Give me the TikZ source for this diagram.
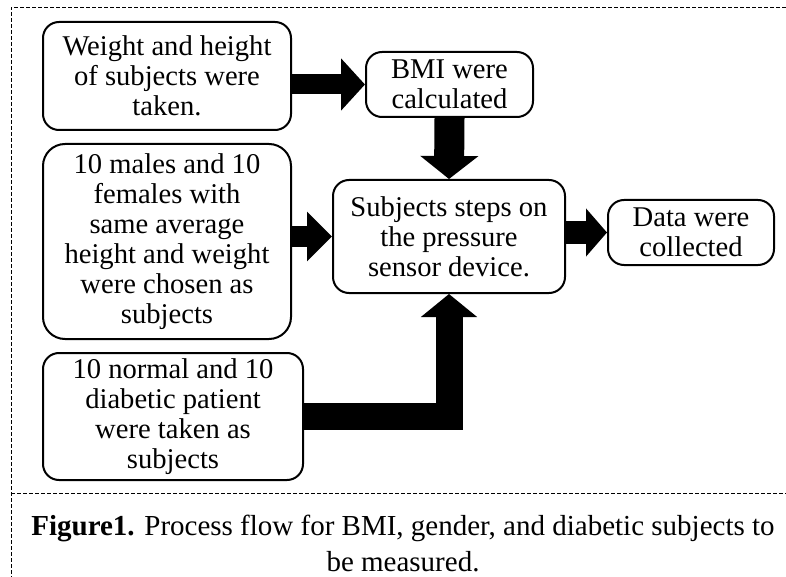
\documentclass[tikz,border=0pt]{standalone}
\usepackage{fontspec}
\setmainfont{Liberation Serif}
\usepackage{tikz}
\usetikzlibrary{arrows.meta, calc}
\tikzset{%
	procbox/.style={
		draw,
		rounded corners=8pt,
		line width=1pt,
		align=center,
		inner sep=1pt,
		font=\fontsize{14.3}{15}\selectfont
	},
	fatarrow/.style={
		line width=#1,
		line join=miter
	},
	frameline/.style={
		line width=0.4pt,
		dash pattern=on 2pt off 1pt
	},
}

\begin{document}
\begin{tikzpicture}[x=0.5pt, y=-0.5pt]
	\useasboundingbox (0,0) rectangle (786,577);
	% frame
	\draw[frameline] (786,7) -- (11,7) -- (11,577);
	\draw[frameline] (11,493) -- (786,493);
	
	% boxes
	\node[procbox, minimum width=124pt, minimum height=54pt] (weight) at (167,76)
		{Weight and height\\of subjects were\\taken.};
	\node[procbox, minimum width=83.5pt, minimum height=32.5pt] (bmi) at (449.5,84.5)
		{BMI were\\calculated};
	\node[procbox, rounded corners=11pt, minimum width=124pt, minimum height=97.5pt] (gender) at (167,241.5)
		{10 males and 10\\females with\\same average\\height and weight\\were chosen as\\subjects};
	\node[procbox, minimum width=116pt, minimum height=56.5pt] (sensor) at (449,236.5)
		{Subjects steps on\\the pressure\\sensor device.};
	\node[procbox, minimum width=83pt, minimum height=32.5pt] (data) at (691,232.5)
		{Data were\\collected};
	\node[procbox, minimum width=130pt, minimum height=63.5pt] (diabetic) at (173,416.5)
		{10 normal and 10\\diabetic patient\\were taken as\\subjects};
	
	% arrows
	\draw[fatarrow=10pt, -{Triangle[length=12pt, width=25.5pt]}]
		(bmi.west -| weight.east) -- (bmi.west);
	\draw[fatarrow=15pt, -{Triangle[length=11.5pt, width=28.5pt]}]
		(bmi.south) -- (sensor.north);
	\draw[fatarrow=10.5pt, -{Triangle[length=12.5pt, width=24pt]}]
		(sensor.west -| gender.east) -- (sensor.west);
	\draw[fatarrow=11.5pt, -{Triangle[length=10.5pt, width=23.5pt]}]
		(sensor.east |- data.west) -- (data.west);
	\draw[fatarrow=13.5pt, -{Triangle[length=11.5pt, width=27.5pt]}]
		(diabetic.east) -| (sensor.south);
	
	% caption
	\node[align=center, inner sep=0pt, font=\fontsize{14.5}{18}\selectfont] (caption) at (403,543)
		{\textbf{Figure1.} Process flow for BMI, gender, and diabetic subjects to\\be measured.};
\end{tikzpicture}
\end{document}
